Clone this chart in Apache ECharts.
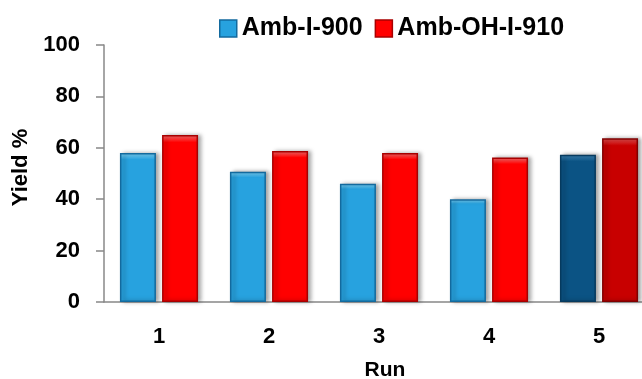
<!DOCTYPE html>
<html><head><meta charset="utf-8">
<script src="https://cdn.jsdelivr.net/npm/echarts@6/dist/echarts.min.js"></script>
<style>html,body{margin:0;padding:0;background:#fff}#c{width:642px;height:379px}</style>
</head><body><div id="c"></div>
<script>
const categories = ['1', '2', '3', '4', '5'];
const ambI900 = [58, 50.7, 46, 40, 57.3];
const ambOHI910 = [65, 58.8, 58, 56.2, 63.7];
const yTicks = [0, 20, 40, 60, 80, 100];

const FONT = '"Liberation Sans", Arial, sans-serif';
function grad(light, base) {
  return new echarts.graphic.LinearGradient(0, 0, 0, 1, [
    {offset: 0, color: light}, {offset: 0.045, color: base}, {offset: 1, color: base}
  ]);
}
const shadow = {shadowColor: 'rgba(0,0,0,0.35)', shadowBlur: 4, shadowOffsetX: 3, shadowOffsetY: 0};
const blueStyle = Object.assign({color: grad('#7fd6fb', '#27a2df'), borderColor: '#136a9e', borderWidth: 1.5}, shadow);
const blueDark = Object.assign({color: grad('#3d86b8', '#0b5384'), borderColor: '#063a5e', borderWidth: 1.5}, shadow);
const redStyle = Object.assign({color: grad('#ff7070', '#ff0000'), borderColor: '#a80000', borderWidth: 1.5}, shadow);
const redDark = Object.assign({color: grad('#e65050', '#c80000'), borderColor: '#800000', borderWidth: 1.5}, shadow);

const chart = echarts.init(document.getElementById('c'), null, {renderer: 'canvas'});
chart.setOption({
  animation: false,
  backgroundColor: '#fff',
  legend: {
    top: 11, left: 214,
    icon: 'rect',
    itemWidth: 17, itemHeight: 17, itemGap: 12,
    textStyle: {fontFamily: FONT, fontWeight: 'bold', fontSize: 25, color: '#000'},
    data: [
      {name: 'Amb-I-900', itemStyle: {color: '#27a2df', borderColor: '#136a9e', borderWidth: 1.5}},
      {name: 'Amb-OH-I-910', itemStyle: {color: '#ff0000', borderColor: '#a80000', borderWidth: 1.5}}
    ]
  },
  grid: {left: 104, top: 45, width: 550, height: 257, containLabel: false, outerBoundsMode: 'none'},
  xAxis: {
    type: 'category', data: categories,
    name: 'Run', nameLocation: 'middle', nameGap: 58,
    nameTextStyle: {fontFamily: FONT, fontWeight: 'bold', fontSize: 21, color: '#000', padding: [0, 0, 0, 12]},
    axisLine: {lineStyle: {color: '#888', width: 1.5}},
    axisTick: {length: 8, lineStyle: {color: '#888', width: 1.5}},
    axisLabel: {fontFamily: FONT, fontWeight: 'bold', fontSize: 22, color: '#000', margin: 24}
  },
  yAxis: {
    type: 'value', min: 0, max: 100, interval: 20,
    name: 'Yield %', nameLocation: 'middle', nameGap: 60, nameRotate: 90,
    nameTextStyle: {fontFamily: FONT, fontWeight: 'bold', fontSize: 22, color: '#000', padding: [0, 0, 0, 12]},
    axisLine: {show: true, lineStyle: {color: '#888', width: 1.5}},
    axisTick: {show: true, length: 8, lineStyle: {color: '#888', width: 1.5}},
    splitLine: {show: false},
    axisLabel: {fontFamily: FONT, fontWeight: 'bold', fontSize: 22, color: '#000', margin: 24,
      formatter: v => yTicks.includes(v) ? String(v) : ''}
  },
  series: [
    {name: 'Amb-I-900', type: 'bar', barWidth: 36, barGap: '17%',
     data: ambI900.map((v, i) => ({value: v, itemStyle: i === 4 ? blueDark : blueStyle})),
     itemStyle: blueStyle},
    {name: 'Amb-OH-I-910', type: 'bar', barWidth: 36, barGap: '17%',
     data: ambOHI910.map((v, i) => ({value: v, itemStyle: i === 4 ? redDark : redStyle})),
     itemStyle: redStyle}
  ]
});
</script></body></html>
